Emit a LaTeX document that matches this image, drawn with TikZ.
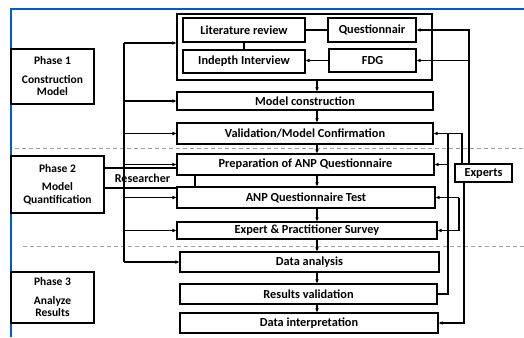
\documentclass[tikz,border=0pt]{standalone}
\usepackage{fontspec}
\setmainfont{Carlito}
\usetikzlibrary{arrows.meta}
\begin{document}
\begin{tikzpicture}[x=1pt,y=-1pt,
  box/.style={draw,line width=1.05pt,fill=white,inner sep=0pt,font=\fontsize{12.3}{14}\selectfont\bfseries},
  phasebox/.style={draw,line width=1.05pt,fill=white,inner sep=0pt,align=center,font=\fontsize{11.5}{12.5}\selectfont\bfseries},
  txt/.style={inner sep=0pt,font=\fontsize{12}{14}\selectfont\bfseries},
  ln/.style={line width=1.05pt},
  arr/.style={line width=1.05pt,-{Latex[length=4pt,width=3.8pt]}},
  sep/.style={draw=gray!75,line width=0.9pt,dash pattern=on 4pt off 3pt},
  frameline/.style={draw=blue!55!cyan!80!black,line width=1.2pt}]
\useasboundingbox[fill=white] (0,0) rectangle (524,337);
% outer blue frame
\coordinate (fbl) at (11,337);
\coordinate (ftl) at (11,9);
\coordinate (ftr) at (524,9);
\draw[frameline] (fbl) -- (ftl) -- (ftr);
% dashed phase separators
\coordinate (d1a) at (15,148);
\coordinate (d1b) at (524,148);
\coordinate (d2a) at (23,246);
\coordinate (d2b) at (524,246);
\draw[sep] (d1a) -- (d1b);
\draw[sep] (d2a) -- (d2b);
% researcher box (behind)
\node[draw,line width=1.05pt,minimum width=91pt,minimum height=20pt,inner sep=0pt] (researcher) at (149.5,178) {};
% phase boxes
\node[phasebox,minimum width=83pt,minimum height=55pt] (phase1) at (52.5,76.5) {Phase 1\\[6pt]Construction\\Model};
\node[phasebox,minimum width=93pt,minimum height=57pt] (phase2) at (57.5,184.5) {Phase 2\\[6pt]Model\\Quantification};
\node[phasebox,minimum width=83pt,minimum height=51pt] (phase3) at (52.5,297.5) {Phase 3\\[6pt]Analyze\\Results};
% main boxes
\node[box,minimum width=255pt,minimum height=66pt] (frame) at (304.5,47) {};
\node[box,minimum width=122pt,minimum height=24pt] (lit) at (244,30) {Literature review};
\node[box,minimum width=88pt,minimum height=24pt] (quest) at (372,30) {Questionnair};
\node[box,minimum width=122pt,minimum height=23pt] (indepth) at (244,61.5) {Indepth Interview};
\node[box,minimum width=87pt,minimum height=23pt] (fdg) at (372.5,60.5) {FDG};
\node[box,minimum width=256pt,minimum height=18pt] (mc) at (305,101) {Model construction};
\node[box,minimum width=256pt,minimum height=21pt] (val) at (305,133.5) {Validation/Model Confirmation};
\node[box,minimum width=257pt,minimum height=21pt] (prep) at (305.5,164.5) {Preparation of ANP Questionnaire};
\node[box,minimum width=258pt,minimum height=21pt] (anp) at (306,197.5) {ANP Questionnaire Test};
\node[box,minimum width=260pt,minimum height=17pt] (eps) at (307,230.5) {Expert \& Practitioner Survey};
\node[box,minimum width=259pt,minimum height=20pt] (da) at (309.5,262) {Data analysis};
\node[box,minimum width=257pt,minimum height=20pt] (rv) at (308.5,294) {Results validation};
\node[box,minimum width=258pt,minimum height=20pt] (di) at (309,323) {Data interpretation};
\node[box,minimum width=57pt,minimum height=18pt] (experts) at (483.5,173) {Experts};
% researcher connector spine
\coordinate (rtop) at (124,43);
\coordinate (rx) at (124,0);
\draw[ln] (rtop) -- (rx |- da.west);
\node[txt] (restext) at (142.5,178) {Researcher};
\draw[arr] (rtop) -- (rtop -| frame.west);
\draw[arr] (rx |- mc.west) -- (mc.west);
\draw[arr] (rx |- val.west) -- (val.west);
\draw[arr] (rx |- prep.west) -- (prep.west);
\draw[arr] (rx |- anp.west) -- (anp.west);
\draw[arr] (rx |- eps.west) -- (eps.west);
\draw[arr] (rx |- da.west) -- (da.west);
% inner links
\draw[ln] (lit.east) -- (quest.west);
\draw[ln] (lit.south) -- (indepth.north);
\draw[arr] (fdg.west) -- (fdg.west -| indepth.east);
% central flow
\coordinate (cx) at (317,0);
\draw[arr] (cx |- frame.south) -- (cx |- mc.north);
\draw[arr] (cx |- mc.south) -- (cx |- val.north);
\draw[arr] (cx |- val.south) -- (cx |- prep.north);
\draw[arr] (cx |- prep.south) -- (cx |- anp.north);
\draw[arr] (cx |- anp.south) -- (cx |- eps.north);
\draw[arr] (cx |- eps.south) -- (cx |- da.north);
\draw[arr] (cx |- da.south) -- (cx |- rv.north);
\draw[arr] (cx |- rv.south) -- (cx |- di.north);
% experts network
\coordinate (xa) at (469,0);
\coordinate (xb) at (462,0);
\coordinate (xc) at (448,0);
\coordinate (xd) at (459,0);
\coordinate (xe) at (464,0);
\draw[arr] (xa |- experts.north) -- (xa |- quest.east) -- (quest.east);
\draw[arr] (xa |- fdg.east) -- (fdg.east);
\draw[arr] (xb |- experts.north) -- (xb |- val.east) -- (val.east);
\draw[ln] (xc |- val.east) -- (xc |- rv.east) -- (rv.east);
\draw[arr] (xc |- prep.east) -- (prep.east);
\draw[arr] (xd |- anp.east) -- (anp.east);
\draw[arr] (xd |- anp.east) -- (xd |- eps.east) -- (eps.east);
\draw[arr] (xe |- experts.south) -- (xe |- di.east) -- (di.east);
\end{tikzpicture}
\end{document}
